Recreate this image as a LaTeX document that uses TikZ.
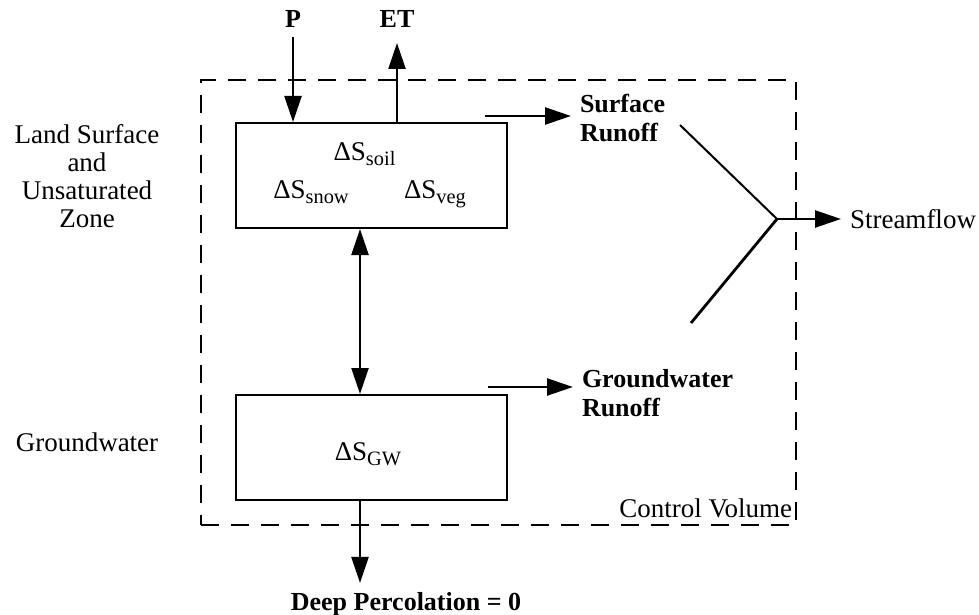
\documentclass[tikz,border=0pt]{standalone}
\usepackage{fontspec}
\setmainfont{Liberation Serif}
\usepackage{tikz}
\usetikzlibrary{arrows.meta,positioning,calc}
\newcommand{\zonefont}{\fontsize{13.5}{14}\selectfont}
\newcommand{\fluxfont}{\fontsize{13}{14.5}\selectfont\bfseries}
\newcommand{\storesub}[1]{\raisebox{-2.5pt}{\fontsize{10.2}{11}\selectfont #1}}
\tikzset{
  store/.style={draw,line width=1pt,minimum width=135.5pt,minimum height=52.5pt,inner sep=0pt},
  cvbox/.style={draw,line width=0.75pt,dash pattern=on 9pt off 6pt,minimum width=297.5pt,minimum height=222.5pt,inner sep=0pt},
  zone/.style={font=\zonefont,align=center,inner sep=4.3pt},
  flux/.style={font=\fluxfont,align=left,inner sep=4.3pt},
  fluxarrow/.style={-{Triangle[length=13pt,width=8.5pt]},line width=1.2pt},
  exchange/.style={{Triangle[length=13pt,width=8.5pt]}-{Triangle[length=13pt,width=8.5pt]},line width=1.2pt},
  merge/.style={line width=1pt},
}

\begin{document}
\begin{tikzpicture}[x=0.5pt,y=-0.5pt]
  \useasboundingbox (0,0) rectangle (979,615);
  % control volume and the two stores
  \node[cvbox] (cv) at (498.5,302.5) {};
  \node[store] (land) at (371.5,175.5) {};
  \node[store] (gw) at (371,447.5) {};
  \node[zone,anchor=base] (soil) at (364.5,160) {ΔS\storesub{soil}};
  \node[zone,anchor=base] (snow) at (311,198) {ΔS\storesub{snow}};
  \node[zone,anchor=base] (veg) at (435,198) {ΔS\storesub{veg}};
  \node[zone,anchor=base] (sgw) at (368,460) {ΔS\storesub{GW}};
  % zone labels
  \node[zone] (lsz) at (87,176) {Land Surface\\and\\Unsaturated\\Zone};
  \node[zone] (gwz) at (87,442) {Groundwater};
  \node[zone,anchor=base east] (cvl) at (801,517) {Control Volume};
  % fluxes
  \node[flux,anchor=base] (P) at (293,28) {P};
  \node[flux,anchor=base] (ET) at (397,28) {ET};
  \node[flux,anchor=west] (srun) at (571,118) {Surface\\Runoff};
  \node[flux,anchor=west] (grun) at (573,393) {Groundwater\\Runoff};
  \node[zone,anchor=west] (sflow) at (841,219) {Streamflow};
  \node[flux,anchor=base] (deep) at (406,610) {Deep Percolation = 0};
  \coordinate (axis) at (360,0);
  \coordinate (srin) at (485,116);
  \coordinate (grin) at (488,387);
  \coordinate (sa) at (680,125);
  \coordinate (sb) at (691,323);
  \coordinate (join) at (777,219);
  \draw[fluxarrow] (P.south) -- (P.south |- land.north);
  \draw[fluxarrow,shorten >=3pt] (ET.south |- land.north) -- (ET.south);
  \draw[exchange] (land.south -| axis) -- (gw.north -| axis);
  \draw[fluxarrow] (gw.south -| axis) -- (deep.north -| axis);
  \draw[fluxarrow] (srin) -- (srin -| srun.west);
  \draw[fluxarrow] (grin) -- (grin -| grun.west);
  % streamflow
  \draw[merge] (sa) -- (join);
  \draw[merge,line width=1.4pt] (sb) -- (join);
  \draw[fluxarrow] (join) -- (sflow.west);
\end{tikzpicture}
\end{document}
